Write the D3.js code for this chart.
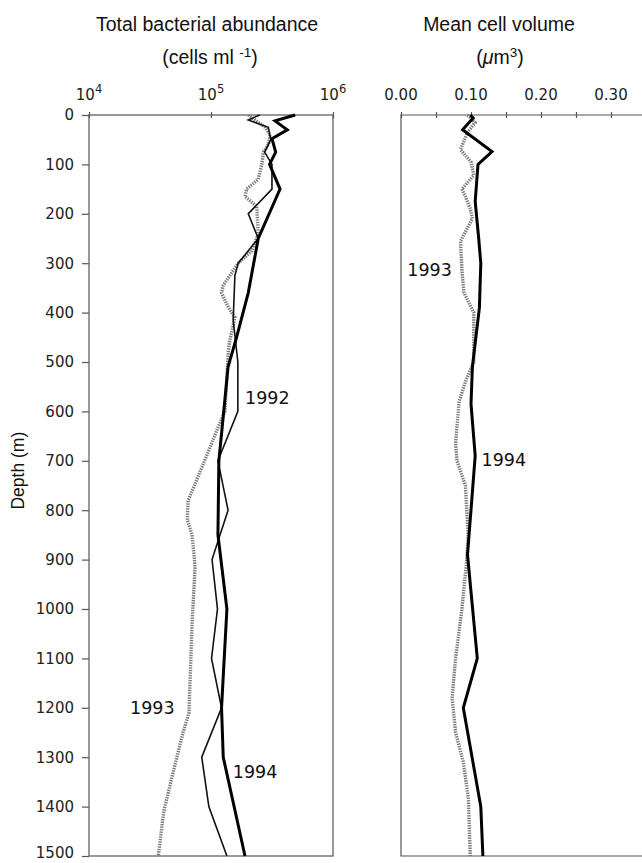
<!DOCTYPE html>
<html>
<head>
<meta charset="utf-8">
<script src="https://cdn.jsdelivr.net/npm/d3@7"></script>
<style>
  html, body { margin: 0; padding: 0; background: #fff; }
  svg { display: block; }
</style>
</head>
<body>
<svg id="chart" width="642" height="863"></svg>
<script>
// ---------- data ----------
const depthTicks = [0,100,200,300,400,500,600,700,800,900,1000,1100,1200,1300,1400,1500];
const abundTicks = [1e4, 1e5, 1e6];
const abundTickExp = ["4", "5", "6"];
const volTicks = [0, 0.05, 0.10, 0.15, 0.20, 0.25, 0.30];
const volTickLabels = [0, 0.10, 0.20, 0.30];

// Total bacterial abundance (cells ml-1)
const ab1992Depth = [0,10,25,50,75,100,150,200,250,300,325,415,500,600,700,800,900,1000,1100,1200,1300,1400,1500];
const ab1992Value = [251000,202000,295000,309000,275000,316000,316000,202000,244000,167000,157000,152000,166000,166000,114000,138000,102000,113000,101000,122000,84000,96000,135000];

const ab1993Depth = [0,25,40,60,75,100,130,150,165,185,240,275,300,345,360,390,410,455,475,600,640,690,740,780,820,850,915,1030,1210,1250,1330,1410,1500];
const ab1993Value = [202000,277000,305000,295000,269000,261000,244000,196000,190000,237000,244000,216000,167000,126000,122000,139000,157000,143000,139000,130000,111000,92000,76000,65000,64000,70000,74000,70000,66000,59000,49000,41000,37000];

const ab1994Depth = [0,12,30,48,75,100,150,250,360,450,510,610,700,850,1000,1200,1300,1500];
const ab1994Value = [490000,335000,422000,316000,339000,302000,368000,244000,202000,162000,138000,126000,116000,114000,135000,122000,126000,190000];

// Mean cell volume (um3)
const vol1993Depth = [0,15,35,70,95,122,150,165,190,210,255,315,360,400,500,540,580,665,700,750,850,900,1000,1100,1180,1250,1310,1380,1500];
const vol1993Value = [0.095,0.106,0.095,0.085,0.100,0.104,0.087,0.092,0.099,0.102,0.085,0.087,0.090,0.104,0.104,0.092,0.083,0.078,0.080,0.092,0.096,0.094,0.087,0.078,0.073,0.078,0.089,0.096,0.099];

const vol1994Depth = [0,6,30,74,100,175,250,300,390,510,585,690,890,1100,1200,1400,1500];
const vol1994Value = [0.099,0.103,0.088,0.130,0.110,0.106,0.111,0.114,0.112,0.102,0.100,0.106,0.095,0.109,0.089,0.114,0.117];

// ---------- layout ----------
const svg = d3.select("#chart");
const yTop = 115, yBot = 856;
const L = { x0: 89, x1: 333 };
const R = { x0: 401, x1: 646 };

const y = d3.scaleLinear().domain([0, 1500]).range([yTop, yBot]);
const xL = d3.scaleLog().domain([1e4, 1e6]).range([L.x0, L.x1]);
const xR = d3.scaleLinear().domain([0, 0.35]).range([R.x0, R.x1]);

const frameColor = "#555";
const tickFont = "'DejaVu Sans', Verdana, sans-serif";
const titleFont = "'Liberation Sans', Arial, Helvetica, sans-serif";
const tickSize = 15;
const titleSize = 19.5;

// frames
svg.append("rect").attr("x", L.x0).attr("y", yTop).attr("width", L.x1 - L.x0).attr("height", yBot - yTop)
  .attr("fill", "none").attr("stroke", frameColor).attr("stroke-width", 1.2);
svg.append("path").attr("d", `M${R.x1},${yTop}H${R.x0}V${yBot}H${R.x1}`)
  .attr("fill", "none").attr("stroke", frameColor).attr("stroke-width", 1.2);

// y axis (depth)
const yAxis = svg.append("g").attr("transform", `translate(${L.x0},0)`)
  .call(d3.axisLeft(y).tickValues(depthTicks).tickSize(7).tickPadding(8).tickFormat(d3.format("d")));
yAxis.select(".domain").remove();
yAxis.selectAll("line").attr("stroke", frameColor).attr("stroke-width", 1.2);
yAxis.selectAll("text").attr("font-family", tickFont).attr("font-size", tickSize).attr("fill", "#222")
  .filter(d => d === 1500).attr("dy", "0.1em");

// top axis left (log)
const xLAxis = svg.append("g").attr("transform", `translate(0,${yTop})`)
  .call(d3.axisTop(xL).tickValues(abundTicks).tickSize(3).tickFormat(""));
xLAxis.select(".domain").remove();
xLAxis.selectAll("line").attr("y1", 3).attr("stroke", frameColor).attr("stroke-width", 1.2);
abundTicks.forEach((v, i) => {
  const t = svg.append("text").attr("x", xL(v)).attr("y", yTop - 15)
    .attr("text-anchor", "middle").attr("font-family", tickFont).attr("font-size", tickSize).attr("fill", "#222");
  t.append("tspan").text("10");
  t.append("tspan").attr("dy", -7).attr("font-size", 11.5).text(abundTickExp[i]);
});

// top axis right
const xRAxis = svg.append("g").attr("transform", `translate(0,${yTop})`)
  .call(d3.axisTop(xR).tickValues(volTicks).tickSize(3).tickFormat(""));
xRAxis.select(".domain").remove();
xRAxis.selectAll("line").attr("y1", 3).attr("stroke", frameColor).attr("stroke-width", 1.2);
svg.append("g").selectAll("text").data(volTickLabels).join("text")
  .attr("x", d => xR(d)).attr("y", yTop - 15).attr("text-anchor", "middle")
  .attr("font-family", tickFont).attr("font-size", tickSize).attr("fill", "#222")
  .text(d => d3.format(".2f")(d));

// titles
svg.append("text").attr("x", 207).attr("y", 31).attr("text-anchor", "middle")
  .attr("font-family", titleFont).attr("font-size", titleSize).attr("fill", "#111").text("Total bacterial abundance");
const t2 = svg.append("text").attr("x", 210).attr("y", 64).attr("text-anchor", "middle")
  .attr("font-family", titleFont).attr("font-size", titleSize).attr("fill", "#111");
t2.append("tspan").text("(cells ml ");
t2.append("tspan").attr("dy", -7).attr("font-size", 13.5).text("-1");
t2.append("tspan").attr("dy", 7).text(")");

svg.append("text").attr("x", 499).attr("y", 31).attr("text-anchor", "middle")
  .attr("font-family", titleFont).attr("font-size", titleSize).attr("fill", "#111").text("Mean cell volume");
const t4 = svg.append("text").attr("x", 500).attr("y", 64).attr("text-anchor", "middle")
  .attr("font-family", titleFont).attr("font-size", titleSize).attr("fill", "#111");
t4.append("tspan").text("(");
t4.append("tspan").attr("font-style", "italic").text("μ");
t4.append("tspan").text("m");
t4.append("tspan").attr("dy", -7).attr("font-size", 13.5).text("3");
t4.append("tspan").attr("dy", 7).text(")");

// y title
svg.append("text").attr("transform", `translate(24,${y(720)}) rotate(-90)`).attr("text-anchor", "middle")
  .attr("font-family", "'Liberation Sans Narrow', 'Liberation Sans', Arial, sans-serif")
  .attr("font-size", 17.5).attr("fill", "#111").text("Depth (m)");

// ---------- lines ----------
function series(depths, values) { return depths.map((d, i) => [values[i], d]); }
const lineL = d3.line().x(d => xL(d[0])).y(d => y(d[1]));
const lineR = d3.line().x(d => xR(d[0])).y(d => y(d[1]));

const dotted = { stroke: "#7a7a7a", width: 3.4, dash: "1.4,1.1" };

svg.append("path").datum(series(ab1993Depth, ab1993Value)).attr("d", lineL)
  .attr("fill", "none").attr("stroke", dotted.stroke).attr("stroke-width", dotted.width)
  .attr("stroke-dasharray", dotted.dash).attr("stroke-linejoin", "round");
svg.append("path").datum(series(ab1992Depth, ab1992Value)).attr("d", lineL)
  .attr("fill", "none").attr("stroke", "#111").attr("stroke-width", 1.6).attr("stroke-linejoin", "miter");
svg.append("path").datum(series(ab1994Depth, ab1994Value)).attr("d", lineL)
  .attr("fill", "none").attr("stroke", "#000").attr("stroke-width", 3).attr("stroke-linejoin", "miter");

svg.append("path").datum(series(vol1993Depth, vol1993Value)).attr("d", lineR)
  .attr("fill", "none").attr("stroke", dotted.stroke).attr("stroke-width", dotted.width)
  .attr("stroke-dasharray", dotted.dash).attr("stroke-linejoin", "round");
svg.append("path").datum(series(vol1994Depth, vol1994Value)).attr("d", lineR)
  .attr("fill", "none").attr("stroke", "#000").attr("stroke-width", 3).attr("stroke-linejoin", "miter");

// ---------- year labels ----------
const yearFont = 17.5;
function yearLabel(xs, v, d, txt) {
  svg.append("text").attr("x", xs(v)).attr("y", y(d))
    .attr("font-family", tickFont).attr("font-size", yearFont).attr("fill", "#111").text(txt);
}
yearLabel(xL, 1.9e5, 585, "1992");
yearLabel(xL, 2.17e4, 1212, "1993");
yearLabel(xL, 1.51e5, 1342, "1994");
yearLabel(xR, 0.009, 326, "1993");
yearLabel(xR, 0.115, 710, "1994");
</script>
</body>
</html>
